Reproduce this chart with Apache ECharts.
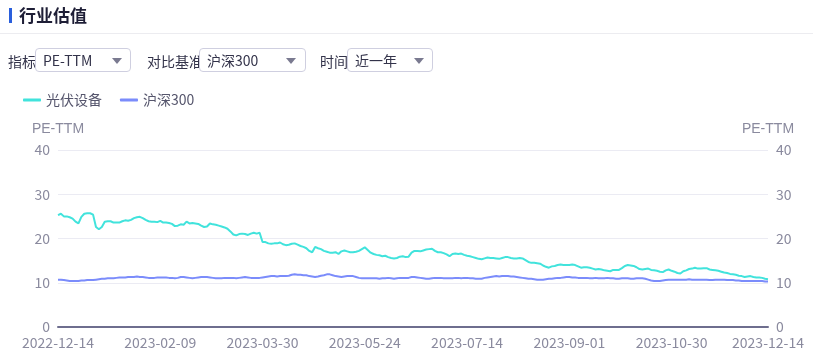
<!DOCTYPE html>
<html>
<head>
<meta charset="utf-8">
<script src="https://cdn.jsdelivr.net/npm/echarts@6/dist/echarts.min.js"></script>
<style>
  html, body { margin:0; padding:0; width:813px; height:355px; overflow:hidden; background:#fff;
    font-family: "Noto Sans CJK SC", "Noto Sans", sans-serif; }
  #chart { position:absolute; left:0; top:0; width:813px; height:355px; }
  .ui { position:absolute; z-index:2; }
  #bar { left:9px; top:8px; width:3px; height:15px; background:#2a5fdc; }
  #title { left:19px; top:3px; font-size:17px; font-weight:bold; color:#1e1e36; line-height:24px; }
  #sep { left:0; top:33px; width:813px; height:1px; background:#ececf0; }
  .lbl { font-size:14px; color:#33334a; top:51px; line-height:20px; }
  .sel { top:48px; height:24px; border:1px solid #cfcfe0; border-radius:4px; box-sizing:border-box;
    font-size:14px; color:#33334a; line-height:22px; padding-left:7px; background:#fff; }
  .arr { position:absolute; top:9px; width:0; height:0; border-left:5px solid transparent;
    border-right:5px solid transparent; border-top:6px solid #7a7a90; }
</style>
</head>
<body>
<div class="ui" id="bar"></div>
<div class="ui" id="title">行业估值</div>
<div class="ui" id="sep"></div>
<div class="ui lbl" style="left:8px;">指标</div>
<div class="ui sel" style="left:35px;width:96px;">PE-TTM<div class="arr" style="left:76px;"></div></div>
<div class="ui lbl" style="left:147px;">对比基准</div>
<div class="ui sel" style="left:199px;width:107px;">沪深300<div class="arr" style="left:86px;"></div></div>
<div class="ui lbl" style="left:320px;">时间</div>
<div class="ui sel" style="left:347px;width:86px;">近一年<div class="arr" style="left:66px;"></div></div>
<div id="chart"></div>
<script>
// Trading-day categories (weekdays minus exchange holidays)
const startDate = '2022-12-14';
const endDate = '2023-12-14';
const holidays = ['2023-01-02','2023-01-23','2023-01-24','2023-01-25','2023-01-26','2023-01-27',
  '2023-04-05','2023-05-01','2023-05-02','2023-05-03','2023-06-22','2023-06-23',
  '2023-09-29','2023-10-02','2023-10-03','2023-10-04','2023-10-05','2023-10-06'];

const seriesNames = ['光伏设备', '沪深300'];
const yTicks = [0, 10, 20, 30, 40];

const pvValues = [
25.3,25.6,25.0,25.0,24.8,24.5,23.8,23.4,24.9,25.6,
25.7,25.7,25.4,22.6,22.1,22.6,23.8,23.9,23.9,23.6,
23.6,23.6,23.9,24.1,24.0,24.2,24.6,24.8,24.9,24.6,
24.2,23.9,23.8,23.8,23.7,24.0,23.6,23.6,23.5,23.3,
22.8,22.9,23.2,23.1,23.8,23.4,23.5,23.4,23.3,22.9,
22.6,22.7,23.4,23.2,23.1,22.9,22.7,22.5,22.2,21.6,
20.9,20.7,21.0,21.1,21.0,20.8,21.1,21.3,21.1,21.3,
19.2,19.2,18.9,18.8,18.9,18.9,19.1,18.7,18.5,18.6,
18.8,18.9,18.6,18.3,18.1,17.8,17.2,16.9,18.1,17.8,
17.6,17.2,17.0,16.8,16.8,16.9,16.5,17.1,17.3,17.1,
16.9,16.9,17.0,17.2,17.6,18.0,17.4,16.8,16.5,16.3,
16.2,16.0,16.1,15.8,15.6,15.5,15.6,15.9,16.0,15.8,
15.9,16.8,17.2,17.2,17.1,17.3,17.5,17.6,17.7,17.2,
16.9,16.9,16.7,16.4,16.0,16.5,16.6,16.5,16.6,16.3,
16.1,16.0,15.8,15.6,15.4,15.3,15.5,15.7,15.6,15.6,
15.5,15.4,15.6,15.8,15.8,15.6,15.5,15.5,15.6,15.5,
15.1,14.7,14.5,14.5,14.4,14.3,13.9,13.6,13.4,13.7,
13.8,14.0,14.1,14.0,14.0,14.0,14.1,14.0,13.7,13.4,
13.5,13.5,13.4,13.2,13.0,13.1,13.0,12.8,12.7,12.6,
12.9,12.9,12.9,13.3,13.8,14.0,13.9,13.8,13.5,13.1,
13.0,13.1,13.2,12.9,12.8,12.7,12.5,12.4,12.8,13.0,
12.7,12.5,12.2,12.1,12.6,12.8,13.1,13.2,13.4,13.2,
13.2,13.3,13.3,13.0,12.9,12.8,12.7,12.5,12.3,12.2,
12.0,11.9,11.8,11.6,11.5,11.3,11.4,11.5,11.3,11.2,
11.2,11.1,10.9,10.8
];

const hs300Values = [
10.7,10.7,10.6,10.5,10.4,10.4,10.4,10.4,10.5,10.5,
10.6,10.6,10.6,10.7,10.8,10.9,10.9,11.0,11.0,11.0,
11.1,11.2,11.2,11.2,11.3,11.3,11.3,11.4,11.3,11.3,
11.2,11.1,11.1,11.1,11.2,11.2,11.2,11.2,11.1,11.1,
11.0,11.1,11.3,11.3,11.2,11.1,11.0,11.1,11.2,11.3,
11.3,11.3,11.2,11.1,11.0,11.0,11.0,11.1,11.1,11.1,
11.1,11.0,11.1,11.2,11.3,11.2,11.1,11.1,11.1,11.1,
11.2,11.3,11.4,11.5,11.5,11.4,11.5,11.5,11.5,11.6,
11.8,11.9,11.8,11.8,11.7,11.7,11.5,11.4,11.3,11.4,
11.6,11.7,11.9,11.9,11.7,11.5,11.4,11.3,11.4,11.5,
11.5,11.5,11.3,11.1,11.0,11.0,11.0,11.0,11.0,11.0,
10.9,11.0,11.0,11.1,11.0,10.9,11.0,11.1,11.1,11.1,
11.1,11.3,11.3,11.2,11.1,11.0,10.9,10.9,11.0,11.1,
11.1,11.1,11.0,11.0,11.0,11.0,11.1,11.1,11.0,11.1,
11.1,11.0,11.0,10.9,10.9,10.9,11.1,11.2,11.3,11.4,
11.5,11.4,11.5,11.5,11.5,11.4,11.4,11.3,11.2,11.1,
11.0,10.9,10.9,10.8,10.7,10.7,10.7,10.8,10.9,10.9,
11.0,11.1,11.1,11.2,11.3,11.3,11.2,11.2,11.1,11.1,
11.1,11.1,11.0,11.0,11.1,11.0,11.0,11.0,11.1,11.0,
11.0,10.9,10.9,11.0,11.0,11.0,10.9,10.9,11.0,11.0,
11.0,10.9,10.7,10.5,10.4,10.4,10.4,10.5,10.6,10.7,
10.7,10.7,10.7,10.7,10.7,10.7,10.8,10.7,10.7,10.7,
10.7,10.7,10.7,10.6,10.6,10.7,10.7,10.7,10.7,10.6,
10.6,10.6,10.5,10.5,10.4,10.4,10.4,10.4,10.4,10.4,
10.4,10.4,10.3,10.3
];

function pad(n){ return n < 10 ? '0' + n : '' + n; }
const dates = [];
(function(){
  const d = new Date(startDate + 'T00:00:00Z');
  const end = new Date(endDate + 'T00:00:00Z');
  while (d <= end) {
    const s = d.getUTCFullYear() + '-' + pad(d.getUTCMonth() + 1) + '-' + pad(d.getUTCDate());
    const wd = d.getUTCDay();
    if (wd !== 0 && wd !== 6 && holidays.indexOf(s) < 0) dates.push(s);
    d.setUTCDate(d.getUTCDate() + 1);
  }
})();

const colors = ['#41e3dc', '#7b8cfb'];
const chart = echarts.init(document.getElementById('chart'));
const lastIdx = dates.length - 1;
const axisText = { color: '#8a8a9e', fontSize: 14, fontFamily: 'Noto Sans CJK SC' };

function yAxisCfg(pos) {
  return {
    type: 'value', position: pos, min: yTicks[0], max: yTicks[yTicks.length - 1], interval: 10,
    name: 'PE-TTM', nameGap: 14,
    nameTextStyle: { color: '#8a8a9e', fontSize: 14, align: 'center' },
    axisLine: { show: false }, axisTick: { show: false },
    axisLabel: Object.assign({ margin: 8 }, axisText),
    splitLine: { show: pos === 'left', lineStyle: { color: '#ebebf3', width: 1 } }
  };
}

chart.setOption({
  animation: false,
  color: colors,
  legend: {
    left: 18, top: 88, itemWidth: 18, itemHeight: 3, itemGap: 18, icon: 'roundRect',
    textStyle: { color: '#55556c', fontSize: 14, fontFamily: 'Noto Sans CJK SC' },
    data: seriesNames
  },
  grid: { left: 58, right: 45, top: 150, bottom: 28, containLabel: false },
  xAxis: {
    type: 'category', data: dates, boundaryGap: false,
    axisLine: { lineStyle: { color: '#6e6e8e', width: 2 } },
    axisTick: { show: false },
    axisLabel: Object.assign({
      margin: 9,
      interval: function(i){ return i % 35 === 0 || i === lastIdx; }
    }, axisText)
  },
  yAxis: [yAxisCfg('left'), yAxisCfg('right')],
  series: [
    { name: seriesNames[0], type: 'line', data: pvValues, showSymbol: false, symbol: 'none',
      lineStyle: { width: 2, color: colors[0] }, yAxisIndex: 0 },
    { name: seriesNames[1], type: 'line', data: hs300Values, showSymbol: false, symbol: 'none',
      lineStyle: { width: 2, color: colors[1] }, yAxisIndex: 0 }
  ]
});
</script>
</body>
</html>
